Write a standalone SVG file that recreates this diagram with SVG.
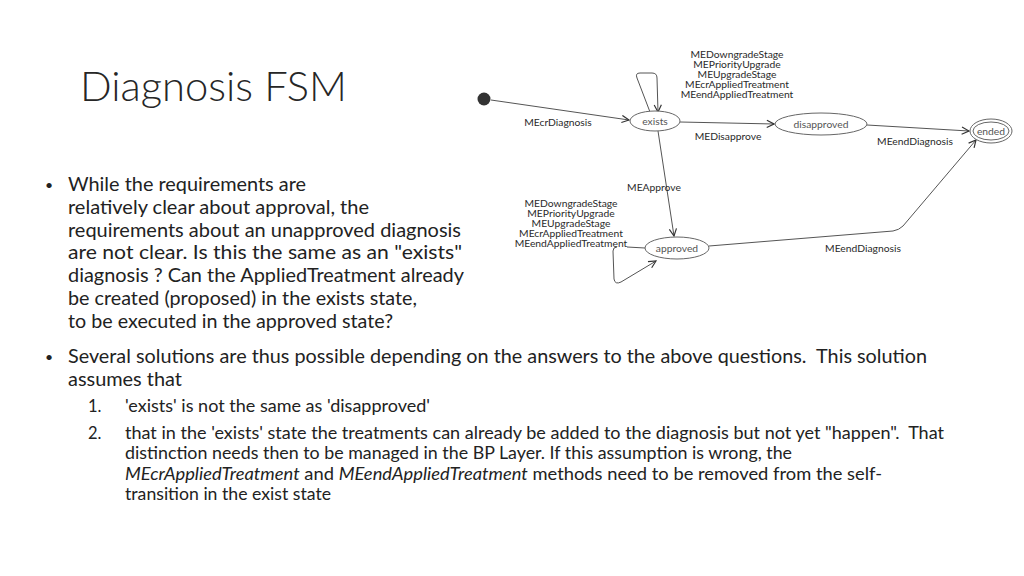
<svg xmlns="http://www.w3.org/2000/svg" width="1024" height="576" viewBox="0 0 1024 576">
<style>
.title{font-family:Lato,"Open Sans",sans-serif;font-weight:300;font-size:42px;fill:#262626}
.body{font-family:Lato,"Open Sans",sans-serif;font-size:19px;fill:#222}
.bul{font-family:Lato,"Open Sans",sans-serif;font-size:14px;fill:#222}
.small{font-family:Lato,"Open Sans",sans-serif;font-size:16.5px;fill:#222}
.lbl{font-family:Lato,"Open Sans",sans-serif;font-size:10.3px;fill:#2a2a2a;text-anchor:middle}
.st{font-family:Lato,"Open Sans",sans-serif;font-size:10.3px;fill:#555;text-anchor:middle}
.node{fill:#fff;stroke:#666;stroke-width:1}
.edge{fill:none;stroke:#555;stroke-width:1;marker-end:url(#arr)}
.edge2{fill:none;stroke:#555;stroke-width:1}
</style>
<defs>
<marker id="arr" viewBox="0 0 10 10" refX="9" refY="5" markerWidth="9" markerHeight="9" markerUnits="userSpaceOnUse" orient="auto">
<path d="M1,1 L9,5 L1,9" fill="none" stroke="#333" stroke-width="1.3"/>
</marker>
</defs>
<rect width="1024" height="576" fill="#fff"/>

<text class="title" x="80" y="101" textLength="267" lengthAdjust="spacingAndGlyphs">Diagnosis FSM</text>

<g id="connectors">
<path class="edge" d="M491,100 L629,120"/>
<path class="edge" d="M650,112 L637,78 Q635,73 640,73 L652,73 Q657,73 657,78 L658,112"/>
<path class="edge" d="M680,122 L774,124"/>
<path class="edge" d="M867,125 L969,131"/>
<path class="edge" d="M658,131 L674,236"/>
<path class="edge2" d="M627,247 L645,248"/>
<path class="edge" d="M617,247 Q613,247 613,251 L614,279 Q615,285 621,282 L656,261"/>
<path class="edge" d="M709,246 L893,231 Q899,230 903,226 L976,140"/>
<text class="lbl" x="558" y="125.5">MEcrDiagnosis</text>
<text class="lbl" x="737" y="58">MEDowngradeStage</text>
<text class="lbl" x="737" y="68">MEPriorityUpgrade</text>
<text class="lbl" x="737" y="78">MEUpgradeStage</text>
<text class="lbl" x="737" y="88">MEcrAppliedTreatment</text>
<text class="lbl" x="737" y="98">MEendAppliedTreatment</text>
<text class="lbl" x="728" y="140">MEDisapprove</text>
<text class="lbl" x="915" y="145">MEendDiagnosis</text>
<text class="lbl" x="654" y="190.5">MEApprove</text>
<text class="lbl" x="571" y="206.5">MEDowngradeStage</text>
<text class="lbl" x="571" y="216.5">MEPriorityUpgrade</text>
<text class="lbl" x="571" y="226.5">MEUpgradeStage</text>
<text class="lbl" x="571" y="236.5">MEcrAppliedTreatment</text>
<text class="lbl" x="571" y="246.5">MEendAppliedTreatment</text>
<text class="lbl" x="863" y="251.5">MEendDiagnosis</text>
</g>

<g id="initial"><circle cx="484" cy="99" r="6.5" fill="#333"/></g>
<g id="exists"><ellipse class="node" cx="655" cy="121" rx="25" ry="10"/><text class="st" x="655" y="124.5">exists</text></g>
<g id="disapproved"><ellipse class="node" cx="821" cy="124" rx="46" ry="11"/><text class="st" x="821" y="127.5">disapproved</text></g>
<g id="approved"><ellipse class="node" cx="677" cy="248" rx="32" ry="11"/><text class="st" x="677" y="251.5">approved</text></g>
<g id="ended"><ellipse class="node" cx="991" cy="131" rx="21" ry="12"/><ellipse class="node" cx="991" cy="131" rx="18" ry="9"/><text class="st" x="991" y="134.5">ended</text></g>

<g id="text1">
<text class="bul" x="45" y="190">•</text>
<text class="body" x="68" y="191" textLength="238" lengthAdjust="spacingAndGlyphs">While the requirements are</text>
<text class="body" x="68" y="214" textLength="301" lengthAdjust="spacingAndGlyphs">relatively clear about approval, the</text>
<text class="body" x="68" y="237" textLength="393" lengthAdjust="spacingAndGlyphs">requirements about an unapproved diagnosis</text>
<text class="body" x="68" y="259" textLength="394" lengthAdjust="spacingAndGlyphs">are not clear. Is this the same as an "exists"</text>
<text class="body" x="68" y="282" textLength="396" lengthAdjust="spacingAndGlyphs">diagnosis ? Can the AppliedTreatment already</text>
<text class="body" x="68" y="305" textLength="349" lengthAdjust="spacingAndGlyphs">be created (proposed) in the exists state,</text>
<text class="body" x="68" y="328" textLength="325" lengthAdjust="spacingAndGlyphs">to be executed in the approved state?</text>
</g>

<g id="text2">
<text class="bul" x="45" y="362">•</text>
<text class="body" x="68" y="363" textLength="859" lengthAdjust="spacingAndGlyphs" xml:space="preserve">Several solutions are thus possible depending on the answers to the above questions.  This solution</text>
<text class="body" x="68" y="386" textLength="114" lengthAdjust="spacingAndGlyphs">assumes that</text>
<text class="small" x="88" y="412">1.</text>
<text class="small" x="125" y="412" textLength="305" lengthAdjust="spacingAndGlyphs">'exists' is not the same as 'disapproved'</text>
<text class="small" x="88" y="439">2.</text>
<text class="small" x="125" y="439" textLength="819" lengthAdjust="spacingAndGlyphs" xml:space="preserve">that in the 'exists' state the treatments can already be added to the diagnosis but not yet "happen".  That</text>
<text class="small" x="125" y="459" textLength="667" lengthAdjust="spacingAndGlyphs">distinction needs then to be managed in the BP Layer. If this assumption is wrong, the</text>
<text class="small" x="125" y="480" textLength="757" lengthAdjust="spacingAndGlyphs"><tspan font-style="italic">MEcrAppliedTreatment</tspan> and <tspan font-style="italic">MEendAppliedTreatment</tspan> methods need to be removed from the self-</text>
<text class="small" x="125" y="500" textLength="206" lengthAdjust="spacingAndGlyphs">transition in the exist state</text>
</g>
</svg>
